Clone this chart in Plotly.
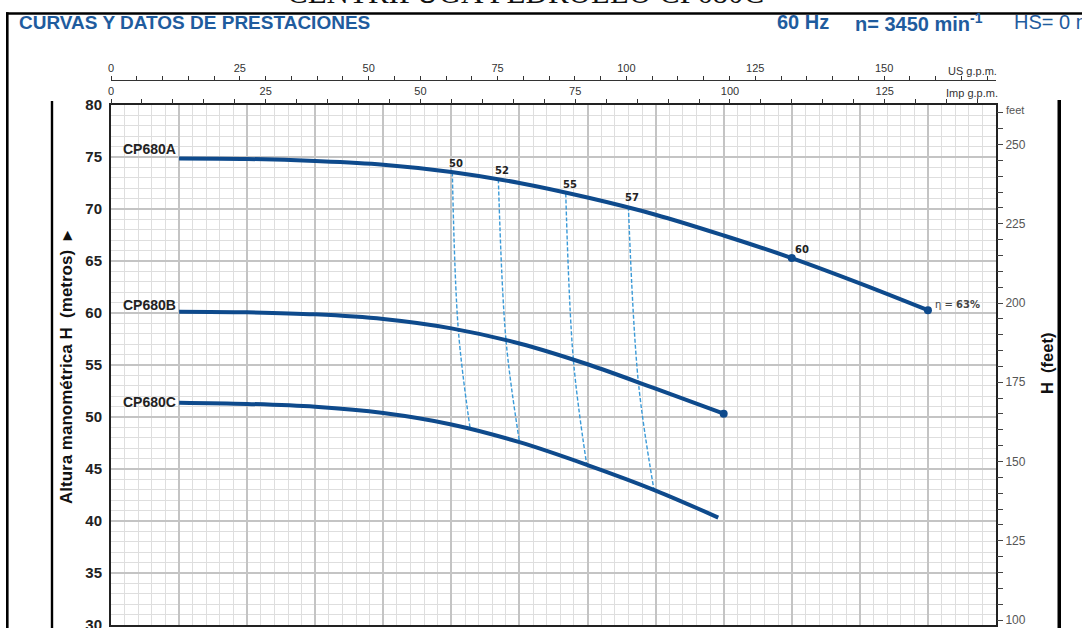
import plotly.graph_objects as go

# Pump curves: flow Q (l/min) and head H (m)
q_a = [50, 100, 150, 200, 250, 300, 350, 400, 450, 500, 550, 600]
h_a = [74.86, 74.81, 74.61, 74.26, 73.56, 72.5, 71.1, 69.45, 67.45, 65.28, 62.85, 60.27]
q_b = [50, 100, 150, 200, 250, 300, 350, 400, 450]
h_b = [60.13, 60.07, 59.87, 59.42, 58.52, 57.07, 55.07, 52.72, 50.32]
q_c = [50, 100, 150, 200, 250, 300, 350, 400, 446]
h_c = [51.38, 51.26, 50.98, 50.38, 49.28, 47.58, 45.38, 42.93, 40.33]
models = ["CP680A", "CP680B", "CP680C"]

# Iso-efficiency lines (%), crossing points on curves A, B and C
eff_labels = ["50", "52", "55", "57"]
eff_q = [[250.7, 255.1, 263.7], [284.5, 290.1, 300.0],
         [334.0, 339.6, 349.3], [380.0, 387.3, 398.8]]
eff_h = [[73.53, 58.37, 48.95], [72.86, 57.4, 47.62], [71.51, 55.48, 45.5],
         [70.22, 53.39, 43.0]]

# Top and right scales
us_ticks = [0, 25, 50, 75, 100, 125, 150]
imp_ticks = [0, 25, 50, 75, 100, 125]
ft_ticks = [100, 125, 150, 175, 200, 225, 250]

L_PER_IMP = 4.54609
L_PER_US = 3.78541
M_PER_FT = 0.3048

W, H = 1082, 628
ML, MR, MT, MB = 111, 86, 60, 3
PW, PH = W - ML - MR, H - MT - MB


def px(x):
    return (x - ML) / PW


def py(y):
    return (H - MB - y) / PH


BLUE = "#0e4a8c"
TITLE_BLUE = "#1f5c9e"
NARROW = "Liberation Sans Narrow, Arial Narrow, Liberation Sans, Arial, sans-serif"
SANS = "Liberation Sans, Arial, sans-serif"

fig = go.Figure()

# iso-efficiency dashed lines
for qs, hs in zip(eff_q, eff_h):
    fig.add_trace(go.Scatter(x=qs, y=hs, mode="lines",
                             line=dict(color="#3a9ad8", width=1.4, dash="4px,2px",
                                       shape="spline", smoothing=1.0),
                             hoverinfo="skip", showlegend=False))

# head curves
for qs, hs in zip([q_a, q_b, q_c], [h_a, h_b, h_c]):
    fig.add_trace(go.Scatter(x=qs, y=hs, mode="lines",
                             line=dict(color=BLUE, width=4, shape="spline", smoothing=1.0),
                             hoverinfo="skip", showlegend=False))

# end / efficiency dots
dot_q = [q_a[9], q_a[-1], q_b[-1]]
dot_h = [h_a[9], h_a[-1], h_b[-1]]
fig.add_trace(go.Scatter(x=dot_q, y=dot_h, mode="markers",
                         marker=dict(color=BLUE, size=8),
                         hoverinfo="skip", showlegend=False))

# secondary unit axes carry the same curve, fully transparent
fig.add_trace(go.Scatter(x=[q / L_PER_IMP for q in q_a], y=h_a, xaxis="x2", yaxis="y",
                         mode="lines", opacity=0, hoverinfo="skip", showlegend=False))
fig.add_trace(go.Scatter(x=[q / L_PER_US for q in q_a], y=h_a, xaxis="x3", yaxis="y",
                         mode="lines", opacity=0, hoverinfo="skip", showlegend=False))
fig.add_trace(go.Scatter(x=q_a, y=[h / M_PER_FT for h in h_a], xaxis="x", yaxis="y2",
                         mode="lines", opacity=0, hoverinfo="skip", showlegend=False))

ytop = py(105)

fig.update_layout(
    width=W, height=H,
    margin=dict(l=ML, r=MR, t=MT, b=MB, pad=0, autoexpand=False),
    paper_bgcolor="white", plot_bgcolor="white",
    showlegend=False,
    xaxis=dict(range=[0, 650], domain=[0, 1], showticklabels=False, ticks="",
               automargin=False,
               showgrid=True, gridcolor="#c4c4c4", gridwidth=1.6, dtick=50, tick0=0,
               minor=dict(dtick=10, tick0=0, showgrid=True, gridcolor="#dedede", gridwidth=1.3),
               showline=True, linecolor="#222", linewidth=2, mirror=True, zeroline=False),
    yaxis=dict(range=[30, 80], domain=[0, ytop], dtick=5, tick0=30, ticks="",
               automargin=False,
               tickfont=dict(family=NARROW, size=15, color="#222", weight="bold"),
               ticklabelstandoff=4, ticklabeloverflow="allow",
               showgrid=True, gridcolor="#c4c4c4", gridwidth=1.6,
               minor=dict(dtick=1, tick0=30, showgrid=True, gridcolor="#dedede", gridwidth=1.3),
               showline=True, linecolor="#222", linewidth=2, mirror=True, zeroline=False),
    xaxis2=dict(overlaying="x", side="top", anchor="y", range=[0, 650 / L_PER_IMP],
                automargin=False,
                tickmode="array", tickvals=imp_ticks, ticks="outside", ticklen=5,
                tickcolor="#333", tickwidth=1,
                minor=dict(dtick=5, tick0=0, ticks="outside", ticklen=5, tickcolor="#333"),
                tickfont=dict(family=NARROW, size=11, color="#333"),
                showgrid=False, showline=False, zeroline=False),
    xaxis3=dict(overlaying="x", side="top", anchor="free", position=py(80),
                automargin=False, range=[0, 650 / L_PER_US],
                tickmode="array", tickvals=us_ticks, ticks="outside", ticklen=4,
                tickcolor="#333", tickwidth=1,
                minor=dict(dtick=5, tick0=0, ticks="outside", ticklen=4, tickcolor="#333"),
                tickfont=dict(family=NARROW, size=11, color="#333"),
                showgrid=False, showline=True, linecolor="#333", linewidth=1.2, zeroline=False),
    yaxis2=dict(overlaying="y", side="right", anchor="x", range=[30 / M_PER_FT, 80 / M_PER_FT],
                automargin=False,
                tickmode="array", tickvals=ft_ticks, ticks="outside", ticklen=6,
                tickcolor="#444", tickwidth=1,
                minor=dict(dtick=5, tick0=0, ticks="outside", ticklen=6, tickcolor="#444"),
                tickfont=dict(family=NARROW, size=12, color="#555"),
                ticklabeloverflow="allow",
                showgrid=False, showline=False, zeroline=False),
)

ann = []
# header texts
ann.append(dict(text="CENTRIFUGA PEDROLLO CP680C", x=px(525), y=py(11.5), xanchor="center",
                yanchor="bottom", font=dict(family="Liberation Serif, Times New Roman, serif",
                                            size=31, color="#111")))
ann.append(dict(text="<b>CURVAS Y DATOS DE PRESTACIONES</b>", x=px(17), y=py(22),
                xanchor="left", yanchor="middle",
                font=dict(family=NARROW, size=19, color=TITLE_BLUE)))
ann.append(dict(text="<b>60 Hz</b>", x=px(775), y=py(22), xanchor="left", yanchor="middle",
                font=dict(family=NARROW, size=20, color=TITLE_BLUE)))
ann.append(dict(text="<b>n= 3450 min<sup>-1</sup></b>", x=px(853), y=py(22), xanchor="left",
                yanchor="middle", font=dict(family=NARROW, size=20, color=TITLE_BLUE)))
ann.append(dict(text="HS= 0 m", x=px(1012), y=py(22), xanchor="left", yanchor="middle",
                font=dict(family=NARROW, size=20, color=TITLE_BLUE)))
# unit labels
ann.append(dict(text="US g.p.m.", x=px(972), y=py(70.5), xanchor="center", yanchor="middle",
                font=dict(family=NARROW, size=11, color="#333")))
ann.append(dict(text="Imp g.p.m.", x=px(972), y=py(93), xanchor="center", yanchor="middle",
                font=dict(family=NARROW, size=11, color="#333")))
ann.append(dict(text="feet", x=px(1004), y=py(110), xanchor="left", yanchor="middle",
                font=dict(family=NARROW, size=11, color="#555")))
ann.append(dict(text="<b>Altura manométrica H\u00a0\u00a0(metros)\u00a0\u00a0\u25b8</b>",
                x=px(66), y=py(367), textangle=-90, xanchor="center", yanchor="middle",
                font=dict(family=SANS, size=17, color="#111")))
ann.append(dict(text="<b>H\u00a0\u00a0(feet)</b>", x=px(1047), y=py(364), textangle=-90,
                xanchor="center", yanchor="middle",
                font=dict(family=SANS, size=16.5, color="#111")))
for a in ann:
    a.update(xref="paper", yref="paper", showarrow=False)

# curve names
for name, qs, hs, dy in zip(models, [q_a, q_b, q_c], [h_a, h_b, h_c], [9, 7, 1]):
    ann.append(dict(text="<b>" + name + "</b>", x=qs[0], y=hs[0], xref="x", yref="y",
                    xanchor="right", yanchor="middle", xshift=-1, yshift=dy, showarrow=False,
                    font=dict(family=SANS, size=14, color="#222")))
# efficiency labels
for lab, qs, hs in zip(eff_labels, eff_q, eff_h):
    ann.append(dict(text="<b>" + lab + "</b>", x=qs[0], y=hs[0], xref="x", yref="y",
                    xanchor="center", yanchor="middle", xshift=4, yshift=9, showarrow=False,
                    font=dict(family="DejaVu Sans", size=10, color="#222")))
ann.append(dict(text="<b>60</b>", x=q_a[9], y=h_a[9], xref="x", yref="y",
                xanchor="center", yanchor="middle", xshift=10, yshift=9, showarrow=False,
                font=dict(family="DejaVu Sans", size=10, color="#222")))
ann.append(dict(text="\u03b7 = <b>63%</b>", x=q_a[-1], y=h_a[-1], xref="x", yref="y",
                xanchor="left", yanchor="middle", xshift=5, yshift=6, showarrow=False,
                font=dict(family="DejaVu Sans", size=10, color="#444")))
fig.update_layout(annotations=ann)

# page frame and side rules as thin filled bars (paper coordinates)
bars = [
    (6, 12.2, 1090, 14.8),
    (6, 12.2, 8.6, 640),
    (50.8, 101, 53.2, 640),
    (1057.5, 100, 1061, 640),
]
shapes = []
for x0, y0, x1, y1 in bars:
    shapes.append(dict(type="rect", x0=px(x0), x1=px(x1), y0=py(y1), y1=py(y0),
                       xref="paper", yref="paper", fillcolor="#000",
                       line=dict(width=0), layer="above"))
fig.update_layout(shapes=shapes)

fig.write_html("out.html")
